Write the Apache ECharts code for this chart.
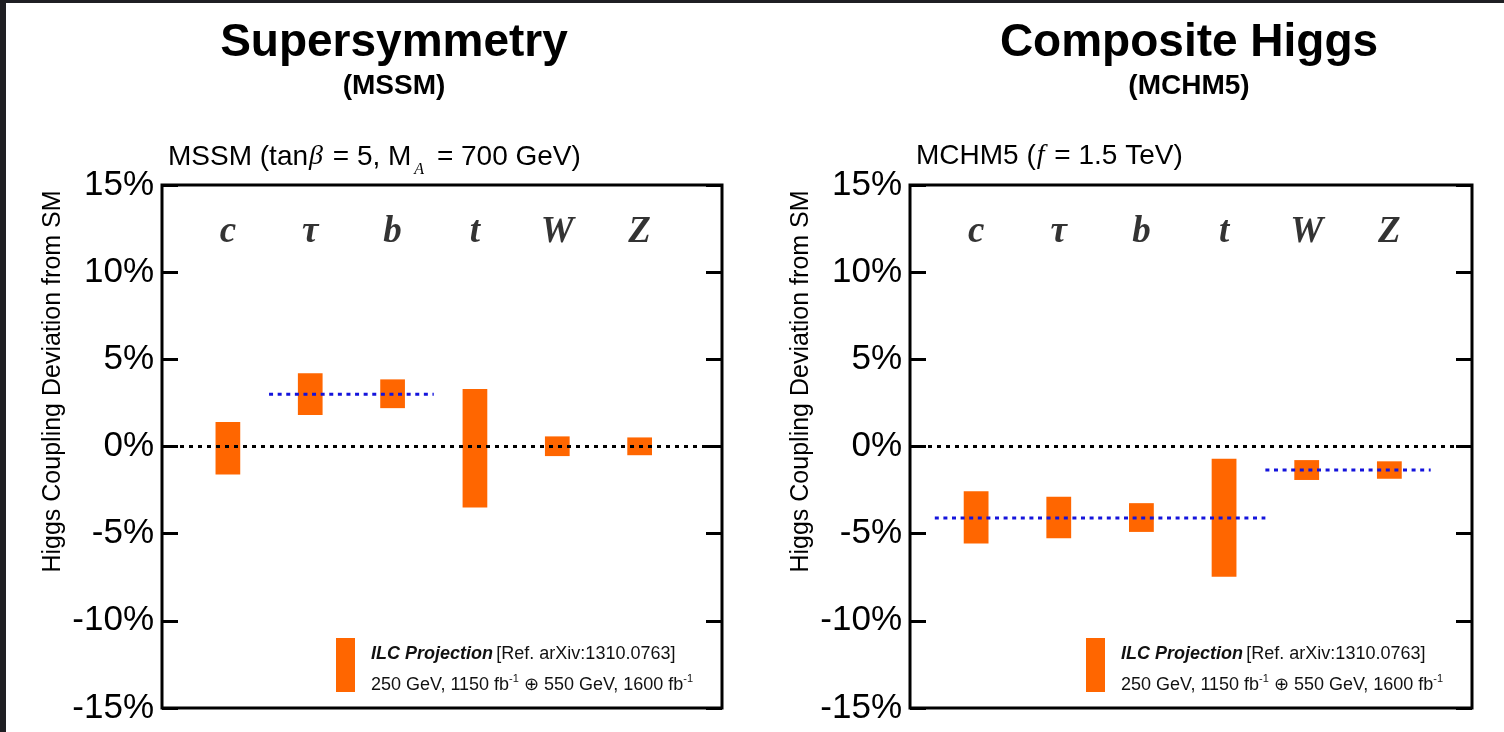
<!DOCTYPE html>
<html><head><meta charset="utf-8">
<script src="https://cdn.jsdelivr.net/npm/echarts@6/dist/echarts.min.js"></script>
<style>
html,body{margin:0;padding:0;background:#fff;}
#chart{position:absolute;left:0;top:0;width:1504px;height:732px;background:#fff;}
.strip{position:absolute;background:#1f1f23;}
</style></head><body>
<div id="chart"></div>
<div class="strip" style="left:0;top:0;width:6px;height:732px"></div>
<div class="strip" style="left:0;top:0;width:1504px;height:3px"></div>
<script>
// ---- data ----
const categories = ['c', 'τ', 'b', 't', 'W', 'Z'];
const categoryPos = [1, 2, 3, 4, 5, 6];
const mssmLow  = [-1.6, 1.8, 2.2, -3.5, -0.55, -0.5];
const mssmHigh = [1.4, 4.2, 3.85, 3.3, 0.58, 0.52];
const mchmLow  = [-5.57, -5.27, -4.9, -7.47, -1.92, -1.85];
const mchmHigh = [-2.57, -2.88, -3.25, -0.7, -0.78, -0.85];
const mssmPredX = [1.5, 3.5];      const mssmPredY = 3.0;
const mchmFermionX = [0.5, 4.5];   const mchmFermionY = -4.1;
const mchmBosonX = [4.5, 6.5];     const mchmBosonY = -1.35;
const yTicks = [-15, -10, -5, 0, 5, 10, 15];
const xRange = [0.2, 7];
const labelLevel = 12.3;
const barHalfWidth = 0.15;

// ---- helpers ----
const SANS = '"Liberation Sans", Arial, Helvetica, sans-serif';
const SERIF = '"Liberation Serif", "Times New Roman", serif';
const ORANGE = '#ff6600';
const BLUE = '#1414dc';

function bars(low, high) { return categoryPos.map((x, i) => [x, low[i], high[i]]); }
function seg(xs, y) { return xs.map(x => [x, y]); }
function labelsData() { return categoryPos.map(x => [x, labelLevel]); }

function renderBar(params, api) {
  const x = api.value(0), lo = api.value(1), hi = api.value(2);
  const p1 = api.coord([x - barHalfWidth, hi]);
  const p2 = api.coord([x + barHalfWidth, lo]);
  return { type: 'rect', shape: { x: p1[0], y: p1[1], width: p2[0] - p1[0], height: p2[1] - p1[1] },
           style: { fill: api.visual('color') } };
}

function yAxisPair(gridIndex, withName) {
  const common = {
    type: 'value', gridIndex: gridIndex,
    min: yTicks[0], max: yTicks[yTicks.length - 1], interval: 5,
    axisLine: { show: false }, splitLine: { show: false },
    axisTick: { show: true, inside: true, length: 16, lineStyle: { color: '#000', width: 3 } }
  };
  const left = Object.assign({}, common, {
    position: 'left',
    axisLabel: { show: true, margin: 8, color: '#000', fontSize: 35, fontFamily: SANS,
                 formatter: v => v + '%' },
    name: withName ? 'Higgs Coupling Deviation from SM' : '',
    nameLocation: 'middle', nameRotate: 90, nameGap: 96,
    nameTextStyle: { fontSize: 25, fontFamily: SANS, color: '#000', padding: [0, 0, 0, 130] }
  });
  const right = Object.assign({}, common, { position: 'right', axisLabel: { show: false } });
  return [left, right];
}

const legendText = '{b|ILC Projection} {n|[Ref. arXiv:1310.0763]}\n{n|250 GeV, 1150 fb}{sup|-1}{n| ⊕ 550 GeV, 1600 fb}{sup|-1}';
const legendRich = {
  b: { fontSize: 18, fontWeight: 'bold', fontStyle: 'italic', fontFamily: SANS, color: '#111', lineHeight: 31 },
  n: { fontSize: 18, fontFamily: SANS, color: '#111', lineHeight: 31 },
  sup: { fontSize: 11, fontFamily: SANS, color: '#111', padding: [0, 0, 12, 0] }
};
function legendAt(left) {
  return {
    left: left, top: 638, padding: 0, icon: 'rect', itemWidth: 19, itemHeight: 54,
    selectedMode: false, data: ['ILC Projection'],
    formatter: () => legendText,
    textStyle: { padding: [9, 0, 0, 11], rich: legendRich }
  };
}

const subRich = {
  n: { fontSize: 28, fontFamily: SANS, fontWeight: 'normal', color: '#000' },
  it: { fontSize: 28, fontFamily: SERIF, fontStyle: 'italic', fontWeight: 'normal', color: '#000', padding: [0, 2, 0, 1] },
  sub: { fontSize: 16, fontFamily: SERIF, fontStyle: 'italic', fontWeight: 'normal', color: '#000', padding: [26, 5, 0, 3] }
};

const option = {
  animation: false,
  backgroundColor: '#fff',
  title: [
    { text: 'Supersymmetry', left: 394, top: 20, textAlign: 'center', padding: 0,
      textStyle: { fontSize: 46, lineHeight: 46, fontWeight: 'bold', fontFamily: SANS, color: '#000' } },
    { text: '(MSSM)', left: 394, top: 72, textAlign: 'center', padding: 0,
      textStyle: { fontSize: 28, lineHeight: 28, fontWeight: 'bold', fontFamily: SANS, color: '#000' } },
    { text: 'Composite Higgs', left: 1189, top: 20, textAlign: 'center', padding: 0,
      textStyle: { fontSize: 46, lineHeight: 46, fontWeight: 'bold', fontFamily: SANS, color: '#000' } },
    { text: '(MCHM5)', left: 1189, top: 72, textAlign: 'center', padding: 0,
      textStyle: { fontSize: 28, lineHeight: 28, fontWeight: 'bold', fontFamily: SANS, color: '#000' } },
    { text: '{n|MSSM (tan}{it|β}{n| = 5, M}{sub|A}{n| = 700 GeV)}', left: 168, top: 136, padding: 0,
      textStyle: { fontWeight: 'normal', rich: subRich } },
    { text: '{n|MCHM5 (}{it|f}{n| = 1.5 TeV)}', left: 916, top: 142, padding: 0,
      textStyle: { fontWeight: 'normal', rich: subRich } }
  ],
  legend: [legendAt(336), legendAt(1086)],
  grid: [
    { left: 162, top: 185, width: 560, height: 523, show: true, borderColor: '#000', borderWidth: 3, backgroundColor: '#fff' },
    { left: 910, top: 185, width: 562, height: 523, show: true, borderColor: '#000', borderWidth: 3, backgroundColor: '#fff' }
  ],
  xAxis: [
    { type: 'value', gridIndex: 0, min: xRange[0], max: xRange[1], show: false, splitLine: { show: false } },
    { type: 'value', gridIndex: 1, min: xRange[0], max: xRange[1], show: false, splitLine: { show: false } }
  ],
  yAxis: [].concat(yAxisPair(0, true), yAxisPair(1, true)),
  series: [
    { name: 'ILC Projection', type: 'custom', xAxisIndex: 0, yAxisIndex: 0, z: 2,
      itemStyle: { color: ORANGE }, renderItem: renderBar, encode: { x: 0, y: [1, 2] }, data: bars(mssmLow, mssmHigh) },
    { name: 'ILC Projection', type: 'custom', xAxisIndex: 1, yAxisIndex: 2, z: 2,
      itemStyle: { color: ORANGE }, renderItem: renderBar, encode: { x: 0, y: [1, 2] }, data: bars(mchmLow, mchmHigh) },
    { type: 'line', xAxisIndex: 0, yAxisIndex: 0, z: 3, symbol: 'none', silent: true,
      lineStyle: { color: '#000', width: 3, type: [4, 5] }, data: seg(xRange, 0) },
    { type: 'line', xAxisIndex: 1, yAxisIndex: 2, z: 3, symbol: 'none', silent: true,
      lineStyle: { color: '#000', width: 3, type: [4, 5] }, data: seg(xRange, 0) },
    { type: 'line', xAxisIndex: 0, yAxisIndex: 0, z: 4, symbol: 'none', silent: true,
      lineStyle: { color: BLUE, width: 3, type: [4, 4.6] }, data: seg(mssmPredX, mssmPredY) },
    { type: 'line', xAxisIndex: 1, yAxisIndex: 2, z: 4, symbol: 'none', silent: true,
      lineStyle: { color: BLUE, width: 3, type: [4, 4.6] }, data: seg(mchmFermionX, mchmFermionY) },
    { type: 'line', xAxisIndex: 1, yAxisIndex: 2, z: 4, symbol: 'none', silent: true,
      lineStyle: { color: BLUE, width: 3, type: [4, 4.6] }, data: seg(mchmBosonX, mchmBosonY) },
    { type: 'scatter', xAxisIndex: 0, yAxisIndex: 0, symbolSize: 0, silent: true, z: 5,
      label: { show: true, position: 'inside', formatter: p => categories[p.dataIndex],
               fontFamily: SERIF, fontSize: 37, fontWeight: 'bold', fontStyle: 'italic', color: '#000' },
      data: labelsData() },
    { type: 'scatter', xAxisIndex: 1, yAxisIndex: 2, symbolSize: 0, silent: true, z: 5,
      label: { show: true, position: 'inside', formatter: p => categories[p.dataIndex],
               fontFamily: SERIF, fontSize: 37, fontWeight: 'bold', fontStyle: 'italic', color: '#000' },
      data: labelsData() }
  ]
};

const chart = echarts.init(document.getElementById('chart'), null, { renderer: 'canvas' });
chart.setOption(option);
</script>
</body></html>
